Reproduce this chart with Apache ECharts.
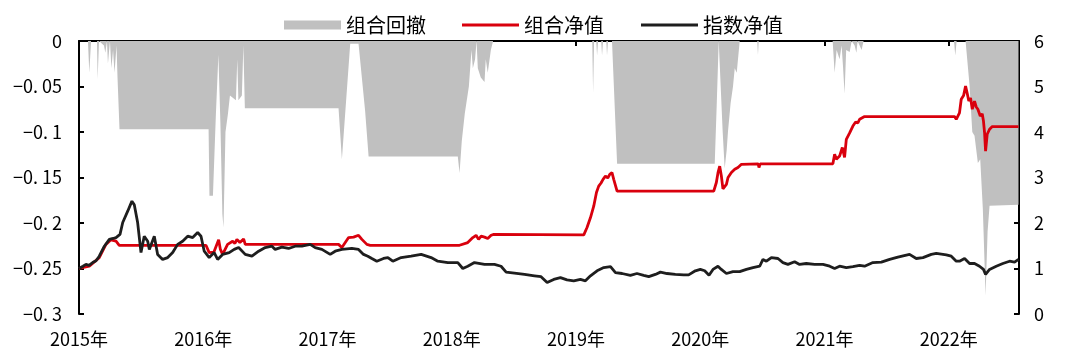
<!DOCTYPE html>
<html>
<head>
<meta charset="utf-8">
<script src="https://cdn.jsdelivr.net/npm/echarts@6/dist/echarts.min.js"></script>
<style>html,body{margin:0;padding:0;background:#fff}#c{width:1065px;height:360px}</style>
</head>
<body>
<div id="c"></div>
<script>
// x = decimal year, value
var legendNames = ['组合回撤', '组合净值', '指数净值'];
var xMin = 2015, xMax = 2022.566;

var drawdownData = [
[2015.000,0],[2015.072,0],[2015.083,-0.035],[2015.097,0],[2015.145,0],[2015.150,-0.042],[2015.161,0],
[2015.201,-0.005],[2015.212,-0.013],[2015.225,0],[2015.233,-0.025],[2015.249,0],[2015.261,-0.03],
[2015.274,-0.01],[2015.286,-0.035],[2015.302,-0.005],[2015.310,-0.04],[2015.326,-0.097],
[2016.043,-0.097],[2016.050,-0.17],[2016.078,-0.17],[2016.102,-0.08],[2016.122,-0.015],[2016.138,-0.09],
[2016.154,-0.19],[2016.163,-0.205],[2016.179,-0.10],[2016.199,-0.08],[2016.215,-0.06],[2016.231,-0.06],
[2016.263,-0.065],[2016.274,-0.02],[2016.283,-0.065],[2016.311,-0.06],[2016.323,-0.005],[2016.335,-0.074],
[2017.089,-0.074],[2017.116,-0.13],[2017.183,-0.003],[2017.250,-0.003],[2017.303,-0.077],[2017.315,-0.077],
[2017.331,-0.127],[2018.049,-0.127],[2018.063,-0.145],[2018.081,-0.11],[2018.105,-0.08],[2018.138,-0.05],
[2018.159,-0.01],[2018.170,-0.03],[2018.188,-0.02],[2018.200,0],[2018.210,-0.03],[2018.234,-0.04],
[2018.264,-0.045],[2018.274,-0.02],[2018.290,-0.035],[2018.315,-0.01],[2018.333,0],
[2019.131,0],[2019.138,-0.057],[2019.146,0],[2019.163,0],[2019.170,-0.016],[2019.178,0],
[2019.203,0],[2019.210,-0.016],[2019.218,0],[2019.244,0],[2019.250,-0.016],[2019.258,0],
[2019.290,0],[2019.331,-0.135],[2020.117,-0.135],[2020.133,-0.07],[2020.149,0],[2020.161,0],
[2020.181,-0.10],[2020.197,-0.14],[2020.213,-0.12],[2020.224,-0.099],[2020.245,-0.068],[2020.264,-0.05],
[2020.278,-0.03],[2020.294,-0.035],[2020.318,0],[2020.459,0],[2020.465,-0.015],[2020.471,0],
[2021.066,0],[2021.082,-0.035],[2021.098,-0.01],[2021.122,-0.02],[2021.138,-0.005],[2021.149,-0.027],
[2021.162,-0.058],[2021.175,-0.01],[2021.203,-0.012],[2021.219,0],[2021.243,-0.005],[2021.257,-0.013],
[2021.267,0],[2021.299,-0.01],[2021.315,0],[2022.043,0],[2022.053,-0.016],[2022.064,0],[2022.136,0],
[2022.168,-0.049],[2022.190,-0.10],[2022.208,-0.104],[2022.235,-0.134],[2022.254,-0.13],[2022.275,-0.185],
[2022.297,-0.28],[2022.313,-0.21],[2022.329,-0.181],[2022.562,-0.18]
];

var portfolioNav = [
[2015.000,1.00],[2015.083,1.05],[2015.163,1.24],[2015.217,1.53],[2015.257,1.63],[2015.298,1.60],[2015.324,1.51],
[2016.022,1.51],[2016.048,1.35],[2016.086,1.36],[2016.124,1.63],[2016.138,1.42],[2016.156,1.31],[2016.196,1.53],
[2016.237,1.60],[2016.255,1.55],[2016.271,1.64],[2016.295,1.57],[2016.325,1.65],[2016.338,1.53],
[2017.089,1.53],[2017.116,1.46],[2017.170,1.68],[2017.210,1.69],[2017.250,1.73],[2017.277,1.64],[2017.317,1.53],
[2017.344,1.51],[2018.063,1.51],[2018.076,1.47],[2018.129,1.57],[2018.170,1.68],[2018.196,1.73],[2018.216,1.64],
[2018.237,1.71],[2018.264,1.69],[2018.290,1.66],[2018.317,1.73],[2018.339,1.75],[2019.063,1.74],[2019.089,1.90],
[2019.117,2.12],[2019.143,2.37],[2019.165,2.67],[2019.183,2.81],[2019.202,2.88],[2019.218,2.96],[2019.237,3.03],
[2019.256,2.99],[2019.272,3.07],[2019.290,3.11],[2019.304,2.96],[2019.331,2.70],[2020.109,2.70],[2020.130,2.89],
[2020.143,3.10],[2020.157,3.25],[2020.170,3.04],[2020.183,2.75],[2020.211,2.85],[2020.224,3.00],[2020.237,2.96],
[2020.251,3.11],[2020.278,3.18],[2020.291,3.14],[2020.304,3.22],[2020.332,3.29],[2020.342,3.30],[2020.467,3.30],
[2020.473,3.22],[2020.483,3.30],[2021.068,3.30],[2021.082,3.51],[2021.096,3.40],[2021.122,3.47],[2021.144,3.66],
[2021.162,3.44],[2021.176,3.84],[2021.203,3.98],[2021.229,4.13],[2021.251,4.22],[2021.269,4.20],[2021.283,4.28],
[2021.323,4.34],[2022.047,4.34],[2022.061,4.28],[2022.087,4.42],[2022.101,4.72],[2022.120,4.80],[2022.136,5.01],
[2022.149,4.85],[2022.162,4.68],[2022.176,4.75],[2022.190,4.50],[2022.208,4.68],[2022.222,4.55],[2022.235,4.50],
[2022.254,4.35],[2022.270,4.40],[2022.280,4.24],[2022.289,3.98],[2022.297,3.58],[2022.310,3.95],[2022.329,4.06],
[2022.351,4.12],[2022.562,4.12]
];

var indexNav = [
[2015.000,1.00],[2015.032,1.05],[2015.056,1.09],[2015.080,1.07],[2015.110,1.13],[2015.137,1.17],[2015.163,1.27],
[2015.204,1.49],[2015.244,1.64],[2015.274,1.66],[2015.298,1.68],[2015.330,1.75],[2015.352,2.01],[2015.392,2.26],
[2015.426,2.48],[2015.445,2.40],[2015.472,2.01],[2015.499,1.35],[2015.525,1.71],[2015.553,1.60],[2015.566,1.42],
[2015.606,1.71],[2015.633,1.31],[2015.673,1.20],[2015.714,1.24],[2015.754,1.35],[2015.794,1.53],[2015.834,1.60],
[2015.875,1.71],[2015.915,1.68],[2015.955,1.79],[2015.982,1.71],[2016.008,1.38],[2016.048,1.24],[2016.088,1.35],
[2016.116,1.20],[2016.156,1.31],[2016.209,1.35],[2016.249,1.42],[2016.285,1.46],[2016.338,1.31],[2016.392,1.27],
[2016.446,1.38],[2016.499,1.46],[2016.553,1.49],[2016.579,1.42],[2016.633,1.47],[2016.687,1.44],[2016.740,1.49],
[2016.794,1.49],[2016.861,1.53],[2016.901,1.46],[2016.955,1.42],[2017.022,1.31],[2017.062,1.38],[2017.116,1.42],
[2017.196,1.44],[2017.250,1.42],[2017.290,1.31],[2017.325,1.27],[2017.357,1.22],[2017.397,1.16],[2017.451,1.22],
[2017.486,1.24],[2017.526,1.16],[2017.593,1.24],[2017.673,1.27],[2017.754,1.31],[2017.834,1.24],[2017.888,1.16],
[2017.969,1.13],[2018.049,1.13],[2018.089,1.00],[2018.129,1.05],[2018.183,1.13],[2018.264,1.09],[2018.344,1.09],
[2018.397,1.05],[2018.438,0.92],[2018.505,0.90],[2018.586,0.87],[2018.666,0.84],[2018.719,0.82],[2018.768,0.69],
[2018.821,0.76],[2018.875,0.80],[2018.928,0.75],[2018.982,0.73],[2019.036,0.76],[2019.076,0.73],[2019.117,0.84],
[2019.170,0.95],[2019.224,1.02],[2019.278,1.04],[2019.318,0.91],[2019.371,0.89],[2019.438,0.85],[2019.491,0.89],
[2019.545,0.85],[2019.586,0.82],[2019.639,0.87],[2019.680,0.92],[2019.733,0.89],[2019.800,0.87],[2019.867,0.86],
[2019.907,0.86],[2019.961,0.95],[2020.001,0.98],[2020.036,0.95],[2020.071,0.85],[2020.103,0.98],[2020.143,1.05],
[2020.170,0.98],[2020.211,0.89],[2020.264,0.93],[2020.318,0.93],[2020.372,0.98],[2020.425,1.02],[2020.479,1.05],
[2020.505,1.20],[2020.533,1.16],[2020.573,1.24],[2020.626,1.22],[2020.666,1.13],[2020.706,1.09],[2020.760,1.15],
[2020.800,1.09],[2020.854,1.11],[2020.921,1.09],[2020.988,1.09],[2021.042,1.05],[2021.082,1.00],[2021.122,1.05],
[2021.176,1.02],[2021.229,1.04],[2021.283,1.07],[2021.323,1.05],[2021.390,1.13],[2021.458,1.14],[2021.525,1.20],
[2021.591,1.25],[2021.685,1.31],[2021.739,1.22],[2021.793,1.24],[2021.860,1.31],[2021.900,1.33],[2021.981,1.30],
[2022.021,1.27],[2022.061,1.16],[2022.087,1.16],[2022.128,1.22],[2022.168,1.11],[2022.208,1.11],[2022.248,1.05],
[2022.280,0.98],[2022.297,0.87],[2022.329,0.98],[2022.383,1.05],[2022.436,1.11],[2022.490,1.16],[2022.530,1.14],
[2022.562,1.20]
];

var FONT = '"Noto Sans CJK SC", "Noto Sans", sans-serif';
function leftFmt(v) {
  if (Math.abs(v) < 1e-9) return '0';
  var s = parseFloat((-v).toFixed(2)).toString();
  return '\u2212' + s.replace('.', '. ');
}
var RED = '#d9000d', BLACK = '#1e1e1e', GRAY = '#c0c0c0';
var chart = echarts.init(document.getElementById('c'), null, {renderer: 'canvas'});
chart.setOption({
  animation: false,
  backgroundColor: '#fff',
  grid: {left: 79, right: 46, top: 41, bottom: 46, containLabel: false},
  legend: [
    {
      top: 10, left: 279, itemWidth: 57, itemHeight: 9, itemGap: 30,
      textStyle: {fontFamily: FONT, fontSize: 20, color: '#000'},
      data: [{name: legendNames[0], icon: 'rect', itemStyle: {color: GRAY}}]
    },
    {
      top: 10, left: 457, itemWidth: 57, itemHeight: 3, itemGap: 37,
      textStyle: {fontFamily: FONT, fontSize: 20, color: '#000'},
      data: [
        {name: legendNames[1], icon: 'rect', itemStyle: {color: RED}},
        {name: legendNames[2], icon: 'rect', itemStyle: {color: BLACK}}
      ]
    }
  ],
  xAxis: [
    {
      type: 'value', min: xMin, max: xMax, interval: 1, position: 'bottom',
      axisLine: {show: false}, axisTick: {show: false}, splitLine: {show: false},
      axisLabel: {
        fontFamily: FONT, fontSize: 18, color: '#000', margin: 16,
        formatter: function (v) { return Math.abs(v - Math.round(v)) < 1e-6 ? Math.round(v) + '年' : ''; }
      }
    },
    {
      type: 'value', min: xMin, max: xMax, interval: 1, position: 'top',
      axisLine: {show: true, onZero: false, lineStyle: {color: '#000', width: 2}},
      axisTick: {show: true, inside: true, length: 5, lineStyle: {color: '#000', width: 2}},
      axisLabel: {show: false}, splitLine: {show: false}
    }
  ],
  yAxis: [
    {
      type: 'value', min: -0.3, max: 0, interval: 0.05, position: 'left',
      axisLine: {show: true, lineStyle: {color: '#000', width: 2}},
      axisTick: {show: true, inside: true, length: 5, lineStyle: {color: '#000', width: 2}},
      splitLine: {show: false},
      axisLabel: {fontFamily: FONT, fontSize: 18, color: '#000', margin: 17, formatter: leftFmt}
    },
    {
      type: 'value', min: 0, max: 6, interval: 1, position: 'right',
      axisLine: {show: true, lineStyle: {color: '#000', width: 2}},
      axisTick: {show: true, inside: true, length: 5, lineStyle: {color: '#000', width: 2}},
      splitLine: {show: false},
      axisLabel: {fontFamily: FONT, fontSize: 18, color: '#000', margin: 15}
    }
  ],
  series: [
    {
      name: legendNames[0], type: 'line', xAxisIndex: 0, yAxisIndex: 0, data: drawdownData,
      symbol: 'none', color: GRAY, itemStyle: {color: GRAY},
      lineStyle: {width: 0, color: GRAY},
      areaStyle: {color: GRAY, opacity: 1}, z: 1
    },
    {
      name: legendNames[1], type: 'line', xAxisIndex: 0, yAxisIndex: 1, data: portfolioNav,
      symbol: 'none', color: RED, lineStyle: {width: 2.8, color: RED}, z: 3
    },
    {
      name: legendNames[2], type: 'line', xAxisIndex: 0, yAxisIndex: 1, data: indexNav,
      symbol: 'none', color: BLACK, lineStyle: {width: 2.8, color: BLACK}, z: 4
    }
  ]
});
</script>
</body>
</html>
